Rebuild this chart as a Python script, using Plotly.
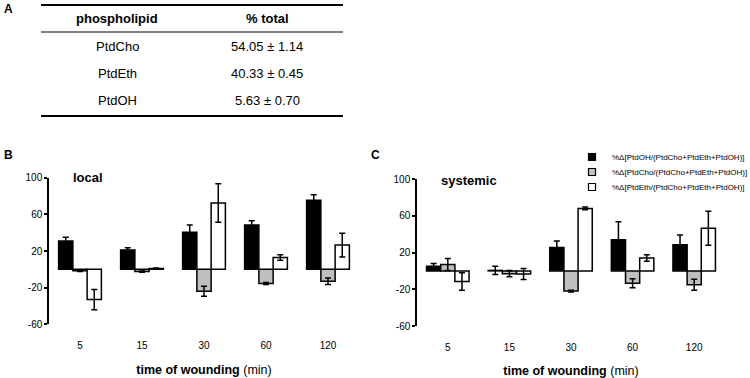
import plotly.graph_objects as go

# ---------------- data ----------------
times = ['5', '15', '30', '60', '120']
series_names = ['%Δ[PtdOH/(PtdCho+PtdEth+PtdOH)]',
                '%Δ[PtdCho/(PtdCho+PtdEth+PtdOH)]',
                '%Δ[PtdEth/(PtdCho+PtdEth+PtdOH)]']

local_ptdoh = [31, 21, 40.5, 48.5, 75.5]
local_ptdoh_err = [4, 2.5, 8, 4.5, 6]
local_ptdcho = [-1.5, -2.5, -24, -15.5, -13]
local_ptdcho_err = [1, 0.8, 5.5, 1, 3.5]
local_ptdeth = [-33, 1, 72.5, 13, 26.5]
local_ptdeth_err = [11, 0.5, 21, 3, 13]

sys_ptdoh = [5, 0.5, 25.5, 34, 28.5]
sys_ptdoh_err = [3, 4.5, 7, 19.5, 10.5]
sys_ptdcho = [7, -3, -22, -13.5, -15]
sys_ptdcho_err = [6.5, 3.5, 1, 5, 6]
sys_ptdeth = [-11.5, -3.5, 68, 14, 46.5]
sys_ptdeth_err = [9.5, 6, 1.5, 3.5, 18.5]

y_ticks = [-60, -20, 20, 60, 100]
y_tick_labels = ['-60', '-20', '20', '60', '100']

phospholipids = ['PtdCho', 'PtdEth', 'PtdOH']
pct_mean = [54.05, 40.33, 5.63]
pct_sd = [1.14, 0.45, 0.70]

# ---------------- helpers ----------------
W, H = 750, 378
FONT = 'Liberation Sans, Arial, sans-serif'
colors = ['#000000', '#bfbfbf', '#ffffff']


def px(x):
    return x / W


def py(y):
    return 1 - y / H


fig = go.Figure()

panels = [
    dict(x='x', y='y', data=[(local_ptdoh, local_ptdoh_err),
                              (local_ptdcho, local_ptdcho_err),
                              (local_ptdeth, local_ptdeth_err)],
         xdom=(49, 359), ytop=177.7, ybot=324.3),
    dict(x='x2', y='y2', data=[(sys_ptdoh, sys_ptdoh_err),
                                (sys_ptdcho, sys_ptdcho_err),
                                (sys_ptdeth, sys_ptdeth_err)],
         xdom=(417, 725), ytop=179, ybot=326),
]

for p in panels:
    for i, (vals, errs) in enumerate(p['data']):
        fig.add_trace(go.Bar(
            x=times, y=vals, xaxis=p['x'], yaxis=p['y'],
            name=series_names[i], showlegend=False,
            marker=dict(color=colors[i], line=dict(color='black', width=1.5)),
            error_y=dict(type='data', array=errs, visible=True,
                         color='black', thickness=1.5, width=3),
        ))

# legend proxies (one legend per entry to control row spacing)
legend_rows = [157, 172, 187]
for i, name in enumerate(series_names):
    fig.add_trace(go.Scatter(
        x=[None], y=[None], mode='markers', name=name,
        xaxis='x2', yaxis='y2',
        marker=dict(symbol='square', size=7, color=colors[i],
                    line=dict(color='black', width=1.2)),
        legend='legend' if i == 0 else f'legend{i + 1}',
        showlegend=True,
    ))

axis_common = dict(showgrid=False, zeroline=False)

layout = dict(
    width=W, height=H, margin=dict(l=0, r=0, t=0, b=0, autoexpand=False),
    paper_bgcolor='white', plot_bgcolor='rgba(0,0,0,0)',
    barmode='group', bargap=0.31, bargroupgap=0,
    font=dict(family=FONT, size=10, color='black'),
    showlegend=True,
)

annotations = []
shapes = []

for k, p in enumerate(panels):
    xa = 'xaxis' if k == 0 else 'xaxis2'
    ya = 'yaxis' if k == 0 else 'yaxis2'
    xl = 'xaxis3' if k == 0 else 'xaxis4'
    zero_y = p['ytop'] + (p['ybot'] - p['ytop']) * 100 / 160
    layout[ya] = dict(axis_common, domain=[py(p['ybot']), py(p['ytop'])],
                      range=[-60, 100], anchor=p['x'], automargin=False,
                      showline=True, linecolor='black', linewidth=1.5,
                      ticks='outside', ticklen=3, tickwidth=1.5, tickcolor='black',
                      tickvals=y_ticks, ticktext=y_tick_labels,
                      tickfont=dict(size=10, family=FONT))
    layout[xa] = dict(axis_common, domain=[px(p['xdom'][0]), px(p['xdom'][1])],
                      type='category', categoryarray=times, range=[-0.5, 4.5],
                      anchor=p['y'], showline=False, automargin=False,
                      ticks='outside', ticklen=12, tickcolor='rgba(0,0,0,0)',
                      tickfont=dict(size=10, family=FONT),
                      title=dict(text='<b>time of wounding</b> (min)',
                                 font=dict(size=12.5, family=FONT), standoff=14))
    layout[xl] = dict(axis_common, overlaying=p['x'], anchor='free',
                      position=py(zero_y), range=[-0.5, 4.5], automargin=False,
                      tickvals=[j - 0.5 for j in range(len(times) + 1)],
                      showticklabels=False, showline=True, linecolor='black',
                      linewidth=1.5, ticks='outside', ticklen=4, tickwidth=1.2,
                      tickcolor='black')


def label(text, x, y, size=13, xanchor='left'):
    annotations.append(dict(text=text, x=px(x), y=py(y), xref='paper', yref='paper',
                            xanchor=xanchor, yanchor='middle', showarrow=False,
                            font=dict(size=size, family=FONT)))


label('<b>local</b>', 71, 177)
label('<b>systemic</b>', 439, 180)
for lab, (lx, ly) in zip(['A', 'B', 'C'], [(2, 9), (2, 155), (369, 155)]):
    label(f'<b>{lab}</b>', lx, ly, size=12)

# table A
col_x = [117, 267]
label('<b>phospholipid</b>', col_x[0], 19, xanchor='center')
label('<b>% total</b>', col_x[1], 19, xanchor='center')
row_y = [46.5, 73, 100]
for name, m, s, ry in zip(phospholipids, pct_mean, pct_sd, row_y):
    label(name, col_x[0], ry, xanchor='center')
    label(f'{m:.2f} ± {s:.2f}', col_x[1], ry, xanchor='center')
for ly, lw in [(5, 2), (32, 1), (116, 2)]:
    shapes.append(dict(type='line', xref='paper', yref='paper', x0=px(41), x1=px(343),
                       y0=py(ly), y1=py(ly), line=dict(color='black', width=lw)))

layout['annotations'] = annotations
layout['shapes'] = shapes

leg_common = dict(bgcolor='rgba(0,0,0,0)', borderwidth=0, itemwidth=30,
                  font=dict(size=8, family=FONT),
                  xanchor='left', yanchor='middle', x=px(572))
layout['legend'] = dict(leg_common, y=py(legend_rows[0]))
layout['legend2'] = dict(leg_common, y=py(legend_rows[1]))
layout['legend3'] = dict(leg_common, y=py(legend_rows[2]))

fig.update_layout(**layout)
fig.write_html('out.html', config={'displayModeBar': False},
               post_script="document.body.style.margin='0px';")
